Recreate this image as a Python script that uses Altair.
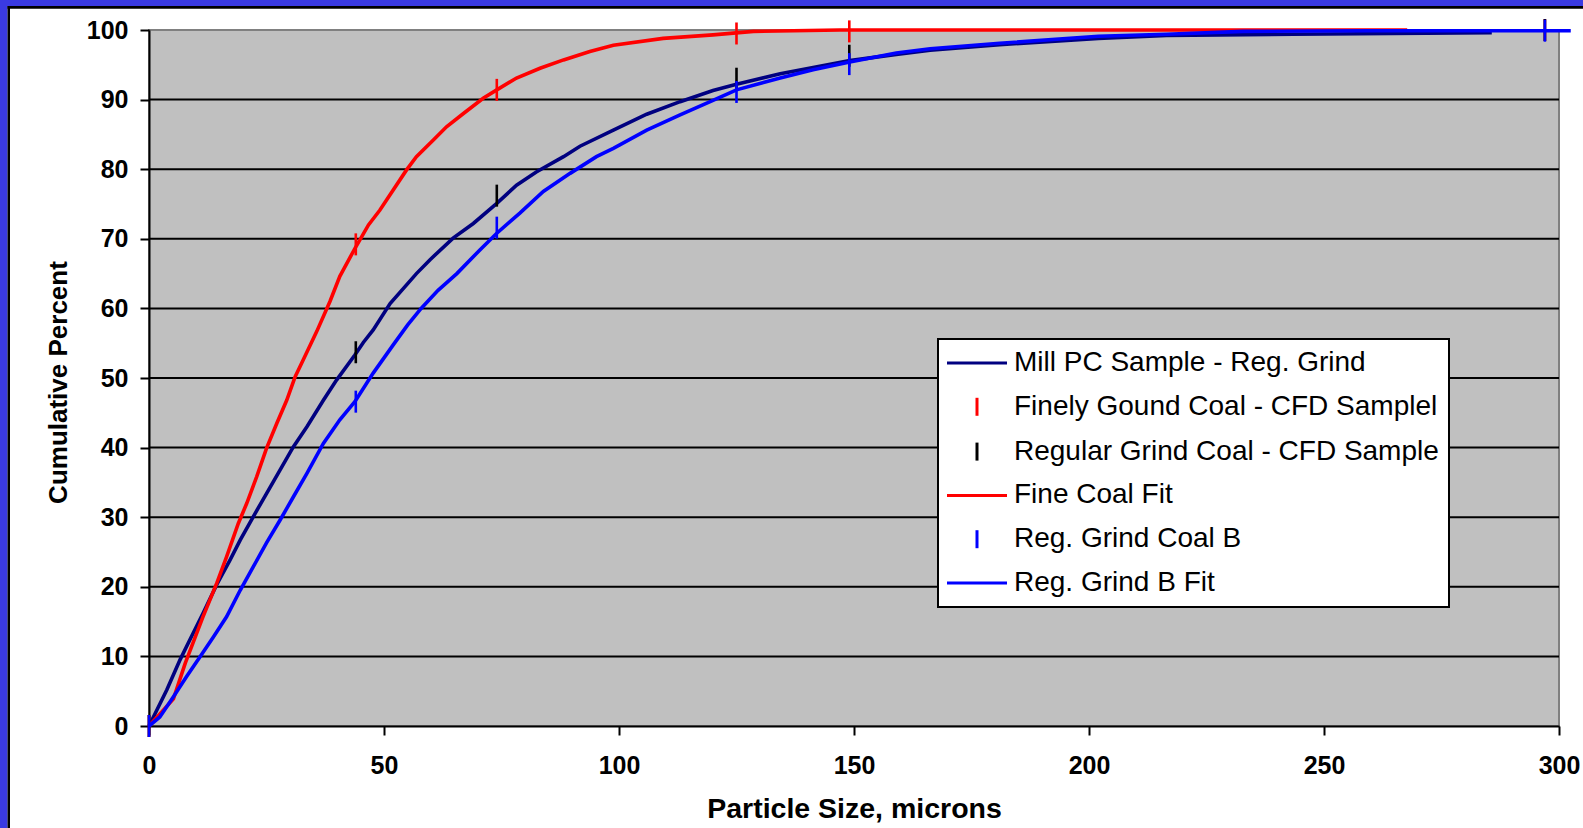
import altair as alt
import pandas as pd

SERIES = [
    "Mill PC Sample - Reg. Grind",
    "Finely Gound Coal - CFD Samplel",
    "Regular Grind Coal - CFD Sample",
    "Fine Coal Fit",
    "Reg. Grind Coal B",
    "Reg. Grind B Fit",
]
COLORS = ["#000080", "#FF0000", "#000000", "#FF0000", "#0000FF", "#0000FF"]
LINE_SYM = "M-1.5,0L4.5,0"
TICK_SYM = "M1.5,-0.9L1.5,0.9"
SHAPES = [LINE_SYM, TICK_SYM, TICK_SYM, LINE_SYM, TICK_SYM, LINE_SYM]

# Mill PC Sample - Reg. Grind (line)
mill_x = [0, 3.8, 6.6, 8.7, 11.5, 14.4, 17.2, 19.4, 22.2, 25.0, 27.9, 30.7, 33.6, 37.1,
          39.9, 43.8, 45.6, 47.7, 51.3, 56.9, 59.8, 64.7, 69.0, 74.0, 78.2, 82.4, 88.2,
          91.7, 98.8, 105.9, 113, 120, 125, 134.3, 141.3, 149.1, 159, 166.2, 181,
          202, 216.5, 243.5, 285.7]
mill_y = [0, 5.2, 9.5, 12.4, 16.2, 20.3, 23.8, 26.7, 30.1, 33.4, 36.8, 40.1, 43.0, 46.8,
          49.7, 53.3, 55.1, 56.9, 60.7, 65.0, 67.0, 70.1, 72.2, 75.1, 77.7, 79.6, 81.8,
          83.3, 85.6, 87.9, 89.7, 91.3, 92.2, 93.7, 94.6, 95.6, 96.5, 97.1, 97.9,
          98.8, 99.2, 99.4, 99.6]

# Fine Coal Fit (line)
fine_x = [0, 5.2, 7.7, 11.5, 14.4, 16.5, 19.0, 20.8, 22.9, 25.0, 27.2, 29.3, 31.1, 32.8,
          35.7, 38.5, 40.6, 43.8, 46.7, 49.1, 54.8, 56.9, 60.5, 63.3, 66.9, 71.1, 74.0,
          78.2, 83.2, 88.2, 93.8, 98.8, 109.4, 120, 128.6, 147, 267.7]
fine_y = [0, 3.9, 9.0, 15.7, 20.5, 24.3, 29.1, 32.0, 35.8, 39.9, 43.5, 46.8, 50.2, 52.6,
          56.7, 61.0, 64.6, 68.6, 72.0, 74.1, 79.9, 81.8, 84.2, 86.1, 88.0, 90.2, 91.4,
          93.1, 94.5, 95.7, 96.9, 97.8, 98.8, 99.3, 99.8, 100, 100]

# Reg. Grind B Fit (line)
bfit_x = [0, 2.3, 5.2, 8.0, 10.9, 13.7, 16.5, 19.4, 22.2, 25.0, 27.9, 30.7, 33.6, 37.1,
          40.6, 43.8, 47.7, 52.0, 55.0, 57.9, 61.5, 65.5, 70.4, 74.0, 78.9, 83.9, 89.6, 95.2,
          98.8, 105.9, 113, 120, 125, 134.3, 141.3, 149.1, 159, 166.2, 181, 202, 216.5,
          232.8, 260, 302.5]
bfit_y = [0, 1.3, 4.2, 7.1, 10.0, 12.8, 15.7, 19.5, 22.9, 26.3, 29.6, 32.9, 36.3, 40.6,
          44.0, 46.6, 50.7, 54.8, 57.6, 60.0, 62.6, 65.0, 68.4, 70.8, 73.7, 76.8, 79.4, 81.8,
          83.0, 85.6, 87.8, 89.9, 91.4, 93.1, 94.3, 95.4, 96.7, 97.3, 98.1, 99.1, 99.4,
          99.8, 99.9, 99.9]

# Sieve sample points (tick markers)
sieve_x = [0, 44, 74, 125, 149, 297]
fine_pts_y = [0, 69.2, 91.4, 99.5, 99.8, 100]
reg_pts_y = [0, 53.7, 76.2, 93.0, 96.3, 100]
b_pts_y = [0, 46.6, 71.6, 91.1, 95.1, 99.9]

grid_vals = [10, 20, 30, 40, 50, 60, 70, 80, 90]
x_ticks = [0, 50, 100, 150, 200, 250, 300]
y_ticks = [0, 10, 20, 30, 40, 50, 60, 70, 80, 90, 100]


def frame(xs, ys, name):
    return pd.DataFrame({"x": xs, "y": ys, "series": name})


FONT = "Liberation Sans"
W, H = 1410, 696

x_enc = alt.X("x:Q", scale=alt.Scale(domain=[0, 300], nice=False, zero=False),
              title="Particle Size, microns",
              axis=alt.Axis(values=x_ticks, grid=False, labelFlush=False))
y_enc = alt.Y("y:Q", scale=alt.Scale(domain=[0, 100], nice=False),
              title="Cumulative Percent",
              axis=alt.Axis(values=y_ticks, grid=False, labelFlush=False))
color_scale = alt.Scale(domain=SERIES, range=COLORS)
color_enc = alt.Color("series:N", scale=color_scale, title=None)
shape_enc = alt.Shape("series:N", scale=alt.Scale(domain=SERIES, range=SHAPES), title=None)


def line_layer(df, width=3.6):
    return alt.Chart(df).mark_line(strokeWidth=width, clip=False).encode(
        x=x_enc, y=y_enc, color=color_enc)


def tick_layer(df):
    return alt.Chart(df).mark_point(shape="M0,-1L0,1", size=484, filled=False,
                                    strokeWidth=2.6, opacity=1).encode(
        x=x_enc, y=y_enc, color=color_enc)


one = pd.DataFrame({"a": [1]})


def deco_rect(x1, x2, y1, y2, col):
    return alt.Chart(one).mark_rect(color=col).encode(
        x=alt.value(x1), x2=alt.value(x2), y=alt.value(y1), y2=alt.value(y2))


BLUE = "#3a3ae2"
border = [
    deco_rect(-149, 1434, -30, -24, BLUE),
    deco_rect(-149, -141.5, -30, 798, BLUE),
    deco_rect(-141.5, 1434, -24, -21.3, "#000000"),
    deco_rect(-141.5, -139, -24, 798, "#000000"),
]

grid = alt.Chart(pd.DataFrame({"y": grid_vals})).mark_rule(color="black", strokeWidth=2).encode(
    y=y_enc)

legend_df = pd.concat([frame([0], [0], s) for s in SERIES])
legend_layer = alt.Chart(legend_df).transform_filter("false").mark_point(
    filled=False).encode(x=x_enc, y=y_enc, color=color_enc, shape=shape_enc)

chart = alt.layer(
    *border,
    grid,
    line_layer(frame(mill_x, mill_y, SERIES[0])),
    tick_layer(frame(sieve_x, fine_pts_y, SERIES[1])),
    tick_layer(frame(sieve_x, reg_pts_y, SERIES[2])),
    line_layer(frame(fine_x, fine_y, SERIES[3])),
    tick_layer(frame(sieve_x, b_pts_y, SERIES[4])),
    line_layer(frame(bfit_x, bfit_y, SERIES[5])),
    legend_layer,
).properties(
    width=W, height=H,
    autosize=alt.AutoSizeParams(type="none"),
    padding={"left": 149, "top": 30, "right": 24, "bottom": 102},
).configure(
    background="white",
    font=FONT,
).configure_view(
    fill="#C0C0C0", stroke="#808080", strokeWidth=2,
).configure_axis(
    labelFont=FONT, labelFontSize=25, labelFontWeight="bold", labelColor="black",
    titleFont=FONT, titleFontWeight="bold", titleColor="black",
    domainColor="black", domainWidth=2, tickColor="black", tickWidth=2, tickSize=9,
).configure_axisX(
    labelPadding=18, titleFontSize=28.5, titleY=82, titleBaseline="middle",
).configure_axisY(
    labelPadding=12, titleFontSize=26, titleX=-91, titleY=352, titleBaseline="middle",
    titleAngle=270,
).configure_legend(
    orient="none", legendX=789, legendY=309, padding=10,
    strokeColor="black", strokeWidth=2, fillColor="white",
    labelFont=FONT, labelFontSize=28, labelColor="black", labelLimit=800,
    symbolSize=400, symbolStrokeWidth=3, symbolOffset=0, labelOffset=38,
    rowPadding=14.8, cornerRadius=0,
)

chart.save("out.html", embed_options={"renderer": "svg", "actions": False})
